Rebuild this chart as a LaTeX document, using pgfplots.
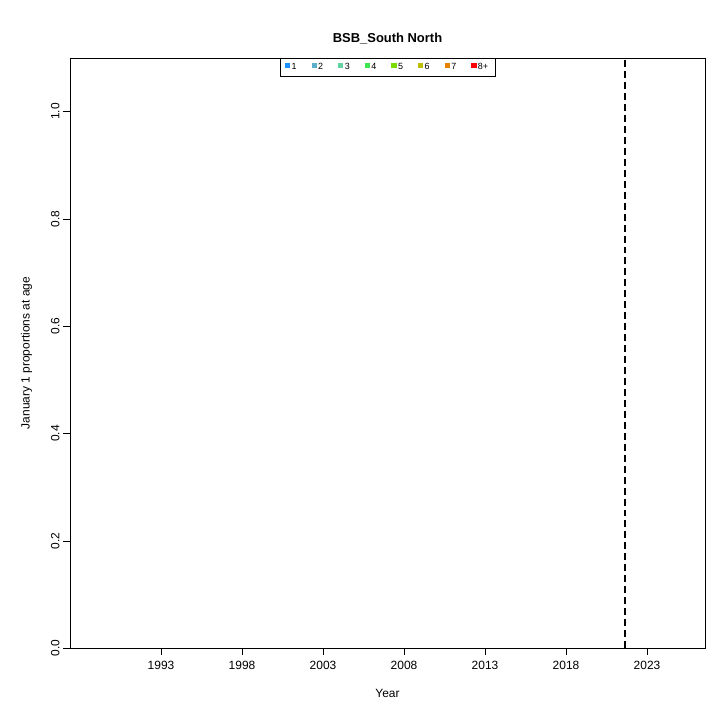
\documentclass[border=0pt]{standalone}
\usepackage{fontspec}
\setmainfont{Liberation Sans}
\usepackage{pgfplots}
\pgfplotsset{compat=1.18}
\usetikzlibrary{calc}
\definecolor{c1}{RGB}{30,144,255}
\definecolor{c2}{RGB}{91,174,204}
\definecolor{c3}{RGB}{100,210,160}
\definecolor{c4}{RGB}{60,230,80}
\definecolor{c5}{RGB}{120,220,0}
\definecolor{c6}{RGB}{190,190,0}
\definecolor{c7}{RGB}{230,130,0}
\definecolor{c8}{RGB}{255,0,0}
\begin{document}
\begin{tikzpicture}
\begin{axis}[name=ax, scale only axis, width=635bp, height=590bp,
  xmin=1987.38, xmax=2026.58, ymin=0, ymax=1.1,
  xtick={1993,1998,2003,2008,2013,2018,2023},
  ytick={0,0.2,0.4,0.6,0.8,1.0},
  yticklabel style={rotate=90,anchor=south,/pgf/number format/fixed,/pgf/number format/precision=1,/pgf/number format/fixed zerofill},
  xticklabel style={anchor=north, yshift=-3bp},
  /pgf/number format/assume math mode=true,
  /pgf/number format/1000 sep={},
  tick label style={font=\fontsize{12}{14}\selectfont},
  tick align=outside, xtick pos=bottom, ytick pos=left,
  major tick length=7bp, tick style={black, thin},
  title={\bfseries BSB\_South North}, title style={font=\fontsize{13}{15}\selectfont, yshift=4bp},
  xlabel={Year}, ylabel={January 1 proportions at age},
  label style={font=\fontsize{12}{14}\selectfont},
  xlabel style={yshift=-12bp},
  ylabel style={yshift=12bp},
  legend columns=8,
  legend style={at={(0.5,1)},anchor=north, draw=black, font=\fontsize{9}{11}\selectfont,
    /tikz/every even column/.append style={column sep=13bp}, inner ysep=3bp, inner xsep=5bp},
  legend image code/.code={\fill[#1] (0.05cm,0cm) rectangle (0.2cm,0.15cm);},
]
\addlegendimage{c1}\addlegendentry{1}
\addlegendimage{c2}\addlegendentry{2}
\addlegendimage{c3}\addlegendentry{3}
\addlegendimage{c4}\addlegendentry{4}
\addlegendimage{c5}\addlegendentry{5}
\addlegendimage{c6}\addlegendentry{6}
\addlegendimage{c7}\addlegendentry{7}
\addlegendimage{c8}\addlegendentry{8+}
\addplot[black, line width=1.5pt, dash pattern=on 7pt off 4pt, forget plot] coordinates {(2021.64,0) (2021.64,1.1)};
\end{axis}
\useasboundingbox ($(ax.south west)+(-70bp,-72bp)$) rectangle +(720bp,720bp);
\end{tikzpicture}
\end{document}
